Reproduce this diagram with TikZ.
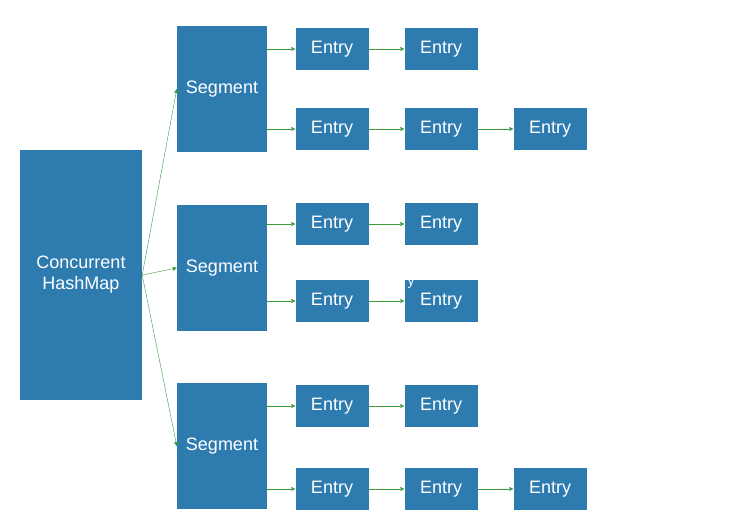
\documentclass[tikz,border=0pt]{standalone}
\usepackage{fontspec}
\setmainfont{Liberation Sans}
\usetikzlibrary{arrows.meta}
\definecolor{boxblue}{HTML}{2E7BB0}
\definecolor{arrgreen}{HTML}{3C9A3C}
\tikzset{
  box/.style={fill=boxblue, draw=none, text=white, inner sep=0pt,
    font=\fontsize{18}{21}\selectfont, align=center},
  entry/.style={box, minimum width=73pt, minimum height=42pt},
  seg/.style={box, minimum width=90pt, minimum height=126pt},
  link/.style={draw=arrgreen, -{Triangle[length=4pt,width=4pt]}}
}
\begin{document}
\begin{tikzpicture}[x=1pt,y=-1pt]
  \useasboundingbox (0,0) rectangle (738,511);
  \node[box, minimum width=122pt, minimum height=250pt] (map) at (81,275) {Concurrent\\HashMap};
  % segments and their entry rows
  \foreach \s/\y/\ra/\rb/\na/\nb in {1/89/49/129/2/3, 2/268/224/301/2/2, 3/446/406/489/2/3} {
    \node[seg] (seg\s) at (222,\y) {Segment};
    \draw[link] (map.east) -- (seg\s.west);
    \foreach \r/\ry/\n in {a/\ra/\na, b/\rb/\nb} {
      \node[entry] (e\s\r1) at (332,\ry) {Entry};
      \node[entry] (e\s\r2) at (441,\ry) {Entry};
      \draw[link] (seg\s.east |- e\s\r1) -- (e\s\r1);
      \draw[link] (e\s\r1) -- (e\s\r2);
      \ifnum\n=3
        \node[entry] (e\s\r3) at (550,\ry) {Entry};
        \draw[link] (e\s\r2) -- (e\s\r3);
      \fi
    }
  }
  \node[text=white, font=\fontsize{14}{16}\selectfont, inner sep=0pt] (stray) at (411,283) {y};
\end{tikzpicture}
\end{document}
